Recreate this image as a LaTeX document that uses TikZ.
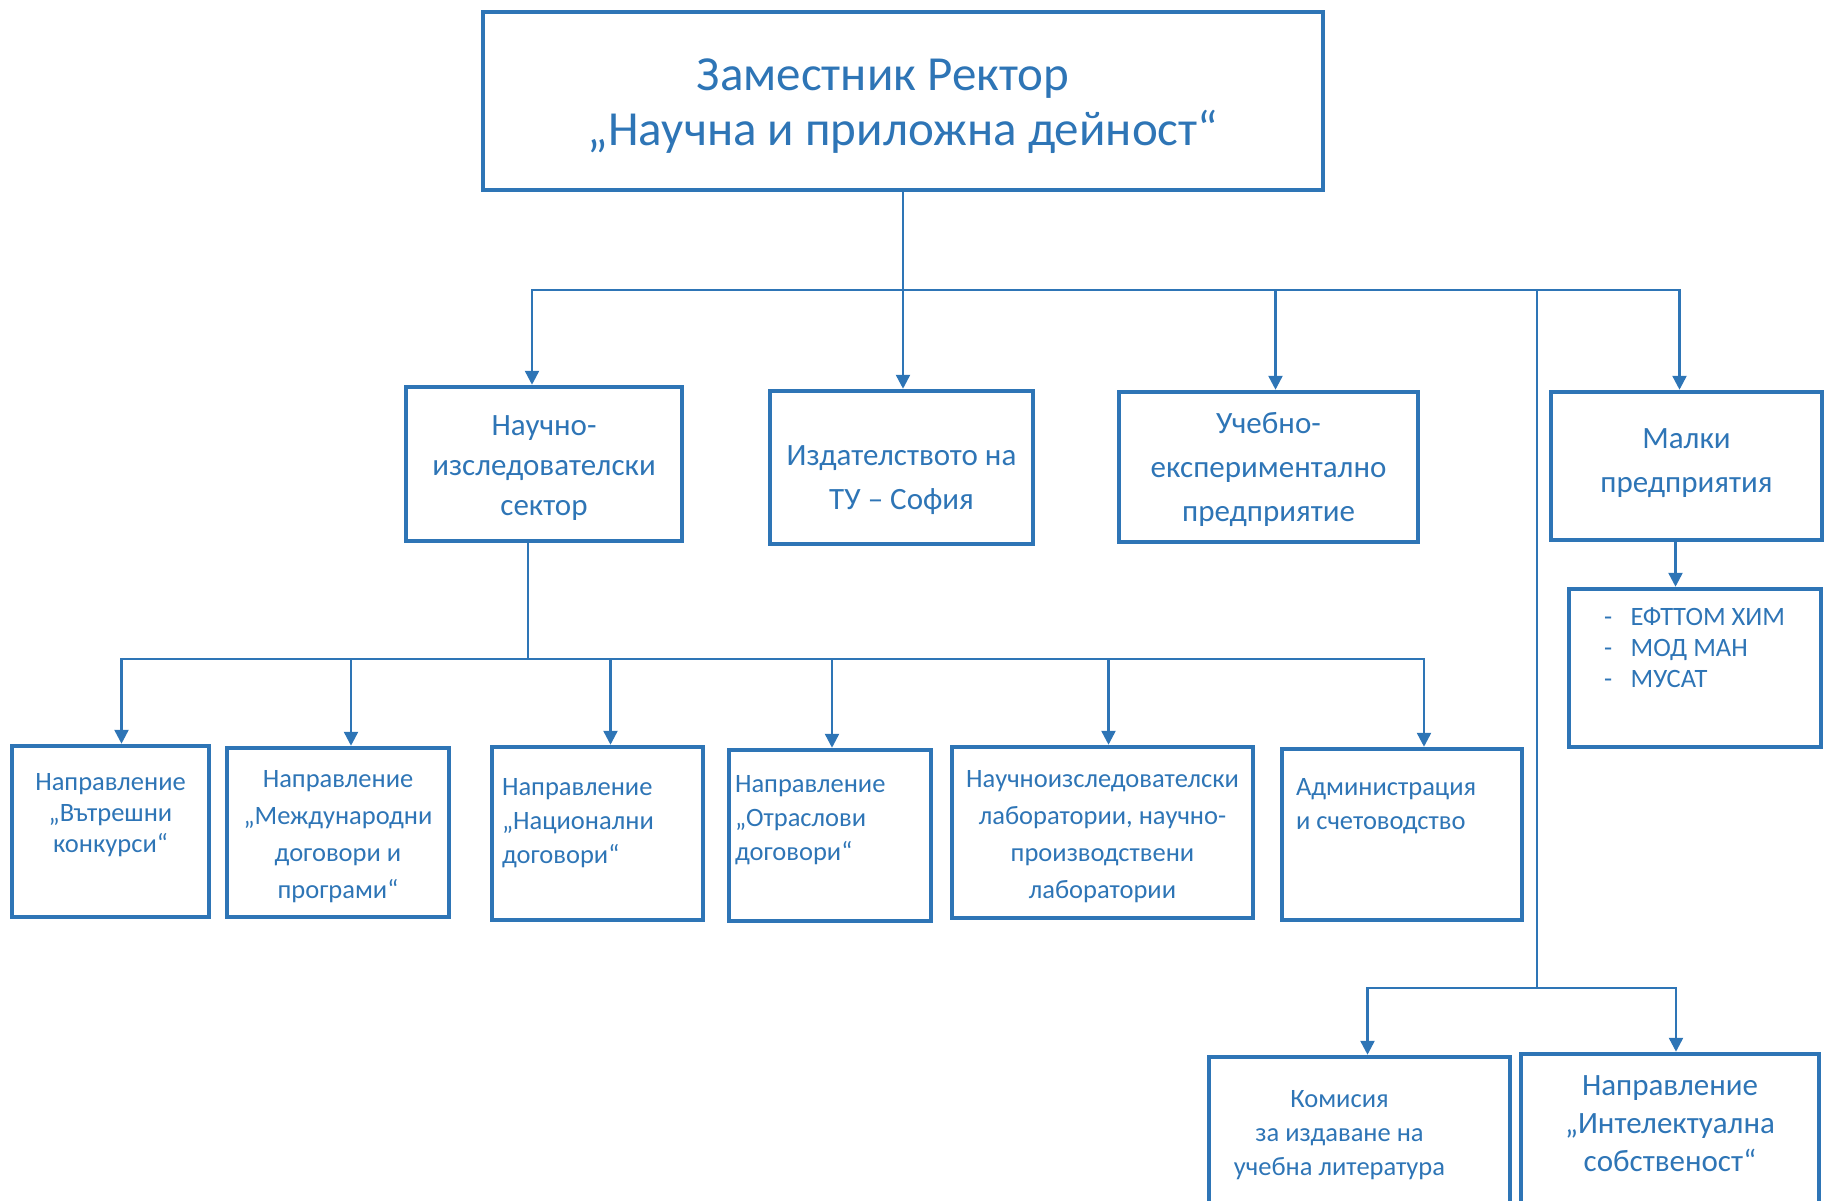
\documentclass[tikz,border=0pt]{standalone}
\usepackage{fontspec}
\setmainfont{Carlito}
\usetikzlibrary{arrows.meta,positioning}
\definecolor{tublue}{RGB}{46,117,182}

\begin{document}
\begin{tikzpicture}[x=1pt, y=-1pt,
    box/.style={draw=tublue, line width=4.5pt, text=tublue, align=flush center, inner sep=0pt, anchor=base},
    big/.style={font=\fontsize{49}{55}\selectfont},
    mid/.style={font=\fontsize{31}{44}\selectfont},
    sml/.style={font=\fontsize{26.5}{34}\selectfont},
    conn/.style={draw=tublue, line width=2.5pt},
    arr/.style={conn, -{Triangle[length=14pt, width=14pt]}}
]
\useasboundingbox (0,0) rectangle (1824,1201);

% top
\node[box, big, text width=840pt, text height=79pt, text depth=99pt] (vr) at (903,91) {Заместник Ректор\rule{40pt}{0pt}\\„Научна и приложна дейност“};

% second row
\node[box, mid, font=\fontsize{31}{40}\selectfont, text width=276pt, text height=48pt, text depth=106pt] (nis) at (544,435) {Научно-\\изследователски\\сектор};
\node[box, mid, text width=263pt, text height=74pt, text depth=79pt] (izd) at (901.5,465) {Издателството на\\ТУ – София};
\node[box, mid, text width=299pt, text height=41pt, text depth=109pt] (uep) at (1268.5,433) {Учебно-\\експериментално\\предприятие};
\node[box, mid, text width=271pt, text height=56pt, text depth=92pt] (mp) at (1686.5,448) {Малки\\предприятия};
\node[box, sml, font=\fontsize{26.5}{31}\selectfont, align=flush left, text width=182pt, minimum width=252pt, text height=36pt, text depth=122pt] (firms) at (1695,625) {-\hspace{0.7em}ЕФТТОМ ХИМ\\-\hspace{0.7em}МОД МАН\\-\hspace{0.7em}МУСАТ};

% third row
\node[box, sml, font=\fontsize{26.5}{31}\selectfont, text width=197pt, text height=44pt, text depth=127pt] (c1) at (110.5,790) {Направление\\„Вътрешни\\конкурси“};
\node[box, sml, font=\fontsize{26.5}{37}\selectfont, text width=222pt, text height=39pt, text depth=130pt] (c2) at (338,787) {Направление\\„Международни\\договори и\\програми“};
\node[box, sml, align=flush left, text width=191pt, minimum width=211pt, text height=48pt, text depth=125pt] (c3) at (597.5,795) {Направление\\„Национални\\договори“};
\node[box, sml, align=flush left, text width=190pt, minimum width=202pt, text height=42pt, text depth=129pt] (c4) at (830,792) {Направление\\„Отраслови\\договори“};
\node[box, sml, font=\fontsize{26.5}{37}\selectfont, text width=301pt, text height=40pt, text depth=131pt] (c5) at (1102.5,787) {Научноизследователски\\лаборатории, научно-\\производствени\\лаборатории};
\node[box, sml, align=flush left, text width=212pt, minimum width=240pt, text height=46pt, text depth=125pt] (c6) at (1402,795) {Администрация\\и счетоводство};

% bottom
\node[box, sml, text width=301pt, text height=50pt, text depth=118pt] (kom) at (1359.5,1107) {Комисия\rule{40pt}{0pt}\\за издаване на\rule{40pt}{0pt}\\учебна литература\rule{40pt}{0pt}};
\node[box, font=\fontsize{31}{38}\selectfont, text width=298pt, text height=41pt, text depth=130pt] (ip) at (1670,1095) {Направление\\„Интелектуална\\собственост“};

\coordinate (busA) at (903,290);
\coordinate (busB) at (528,659);
\coordinate (busC) at (1537,988);

\draw[conn] (vr.south) -- (busA);
\draw[arr] (busA) -| ([xshift=-12pt]nis.north);
\draw[arr] (busA) -| ([xshift=1.5pt]izd.north);
\draw[arr] (busA) -| ([xshift=7pt]uep.north);
\draw[arr] (busA) -| ([xshift=-7pt]mp.north);
\draw[arr] ([xshift=-11pt]mp.south) -- ([xshift=-11pt]mp.south |- firms.north);

\draw[conn] (busB |- nis.south) -- (busB);
\foreach \n/\dx in {c1/11, c2/13, c3/13, c4/2, c5/6, c6/22}
    \draw[arr] (busB) -| ([xshift=\dx pt]\n.north);

\draw[conn] (busC |- busA) -- (busC);
\draw[arr] (busC) -| ([xshift=8pt]kom.north);
\draw[arr] (busC) -| ([xshift=6pt]ip.north);
\end{tikzpicture}
\end{document}
